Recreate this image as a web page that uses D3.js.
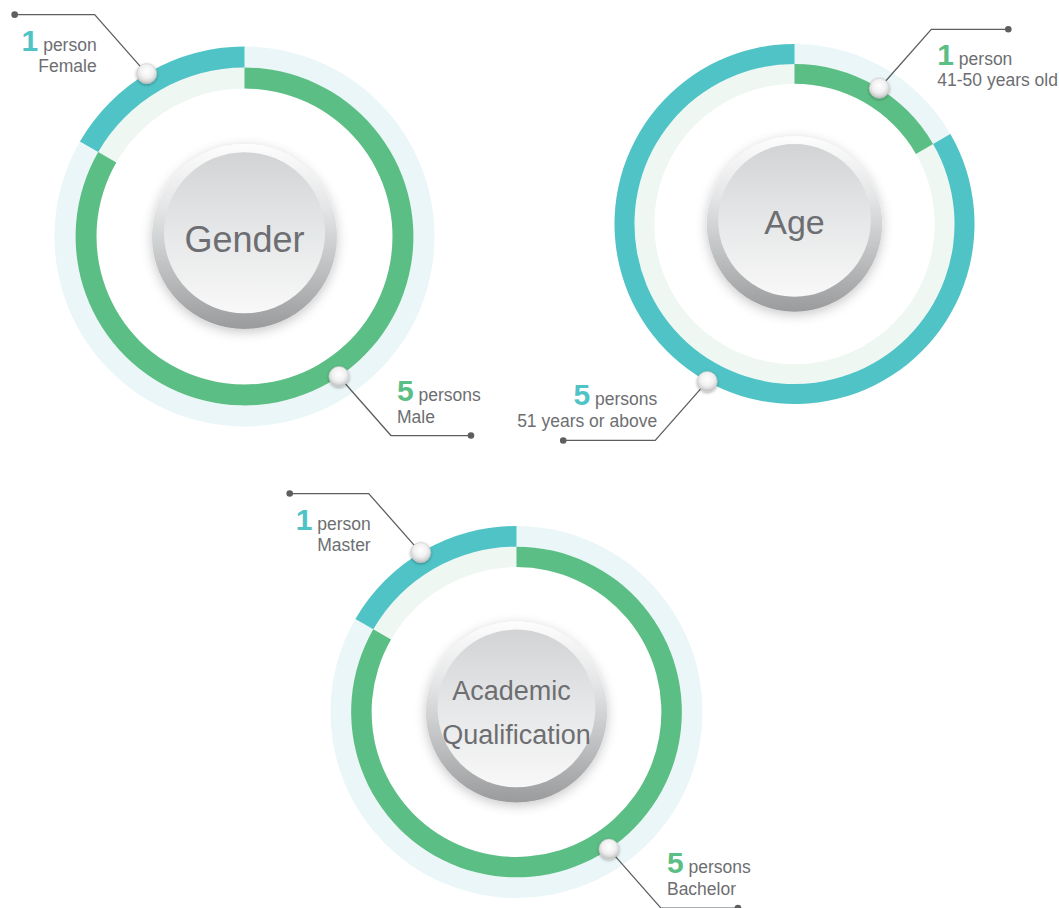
<!DOCTYPE html>
<html><head><meta charset="utf-8">
<script src="https://cdn.jsdelivr.net/npm/d3@7"></script>
<style>html,body{margin:0;padding:0;background:#fff;} svg{display:block;}</style>
</head><body>
<svg id="chart" width="1059" height="908"></svg>
<script>
// ---------- data ----------
const chartTitles = ["Gender", "Age", "Academic Qualification"];
const genderCategories = ["Female", "Male"];
const genderValues = [1, 5];
const ageCategories = ["41-50 years old", "51 years or above"];
const ageValues = [1, 5];
const academicCategories = ["Master", "Bachelor"];
const academicValues = [1, 5];

// ---------- styles / layout ----------
const TEAL = "#4fc3c6", GREEN = "#5bbe84";
const LIGHT_OUTER = "#eaf6f7", LIGHT_INNER = "#eef7f2";
const TEXT = "#6d6e71", LINE = "#5d5e60";
const FONT = "'Liberation Sans', Arial, Helvetica, sans-serif";

const charts = [
  {title: chartTitles[0], cats: genderCategories, vals: genderValues, cx: 244.5, cy: 236.5, R: 190,
   colors: [TEAL, GREEN], start: "endAtTop", lines: 1, titleSize: 36, titleDy: 1,
   leaderLen: [80, 80], knobShift: [-1, -4]},
  {title: chartTitles[1], cats: ageCategories, vals: ageValues, cx: 794.5, cy: 224, R: 180,
   colors: [GREEN, TEAL], start: "startAtTop", lines: 1, titleSize: 34, titleDy: -4.5,
   leaderLen: [77, 92], knobShift: [2, -1]},
  {title: chartTitles[2], cats: academicCategories, vals: academicValues, cx: 516.5, cy: 712, R: 186,
   colors: [TEAL, GREEN], start: "endAtTop", lines: 2, titleSize: 27, titleDy: 0,
   leaderLen: [79, 77], knobShift: [-1, -4]}
];

const svg = d3.select("#chart");
svg.append("rect").attr("width", 1059).attr("height", 908).attr("fill", "#fff");

const defs = svg.append("defs");
const rimGrad = defs.append("linearGradient").attr("id", "rimGrad")
  .attr("x1", 0).attr("y1", 0).attr("x2", 0).attr("y2", 1);
[[0, "#fdfdfd"], [0.35, "#e4e5e6"], [0.7, "#bcbdbf"], [1, "#9a9b9d"]]
  .forEach(([o, c]) => rimGrad.append("stop").attr("offset", o).attr("stop-color", c));
const faceGrad = defs.append("linearGradient").attr("id", "faceGrad")
  .attr("x1", 0).attr("y1", 0).attr("x2", 0).attr("y2", 1);
[[0, "#d2d3d5"], [0.5, "#e6e7e8"], [1, "#f8f8f8"]]
  .forEach(([o, c]) => faceGrad.append("stop").attr("offset", o).attr("stop-color", c));
const knobGrad = defs.append("radialGradient").attr("id", "knobGrad")
  .attr("cx", "50%").attr("cy", "38%").attr("r", "60%");
[[0, "#ffffff"], [0.55, "#f1f1f1"], [0.8, "#dcdcdc"], [1, "#bfbfbf"]]
  .forEach(([o, c]) => knobGrad.append("stop").attr("offset", o).attr("stop-color", c));

function shadow(id, std, dy, op) {
  const f = defs.append("filter").attr("id", id)
    .attr("x", "-40%").attr("y", "-40%").attr("width", "180%").attr("height", "180%");
  f.append("feGaussianBlur").attr("in", "SourceAlpha").attr("stdDeviation", std);
  f.append("feOffset").attr("dy", dy).attr("result", "b");
  f.append("feFlood").attr("flood-color", "#000").attr("flood-opacity", op);
  f.append("feComposite").attr("in2", "b").attr("operator", "in");
  const m = f.append("feMerge");
  m.append("feMergeNode");
  m.append("feMergeNode").attr("in", "SourceGraphic");
}
shadow("btnShadow", 6, 3, 0.22);
shadow("knobShadow", 1.6, 1, 0.35);

charts.forEach(ch => {
  const g = svg.append("g").attr("transform", `translate(${ch.cx},${ch.cy})`);
  const R = ch.R;
  const rings = {
    outer: [R * 0.889, R],
    inner: [R * 0.779, R * 0.889]
  };
  const ringOf = c => (c === TEAL ? "outer" : "inner");

  // background rings
  const full = d3.arc().startAngle(0).endAngle(2 * Math.PI);
  g.append("path").attr("d", full.innerRadius(rings.outer[0]).outerRadius(rings.outer[1])()).attr("fill", LIGHT_OUTER);
  g.append("path").attr("d", full.innerRadius(rings.inner[0]).outerRadius(rings.inner[1])()).attr("fill", LIGHT_INNER);

  // segments
  const total = d3.sum(ch.vals);
  const startDeg = ch.start === "endAtTop" ? -360 * ch.vals[0] / total : 0;
  const toRad = d => d * Math.PI / 180;
  const pie = d3.pie().sort(null).startAngle(toRad(startDeg)).endAngle(toRad(startDeg + 360));
  const arcs = pie(ch.vals);
  const arc = d3.arc();
  arcs.forEach((a, i) => {
    const r = rings[ringOf(ch.colors[i])];
    g.append("path")
      .attr("d", arc({innerRadius: r[0], outerRadius: r[1], startAngle: a.startAngle, endAngle: a.endAngle}))
      .attr("fill", ch.colors[i]);
  });

  // center button
  const btn = g.append("g").attr("filter", "url(#btnShadow)");
  btn.append("circle").attr("r", R * 0.487).attr("fill", "url(#rimGrad)");
  btn.append("circle").attr("cy", -R * 0.02).attr("r", R * 0.424).attr("fill", "url(#faceGrad)");
  const titleLines = ch.lines === 2 ? ch.title.split(" ") : [ch.title];
  const capH = ch.titleSize * 0.716;
  const lineH = ch.titleSize * 1.63;
  titleLines.forEach((t, i) => {
    g.append("text")
      .attr("x", titleLines.length === 2 && i === 0 ? -5 : 0)
      .attr("y", capH / 2 + (i - (titleLines.length - 1) / 2) * lineH + ch.titleDy + (titleLines.length === 1 ? 2 : 0))
      .attr("text-anchor", "middle")
      .attr("font-family", FONT).attr("font-size", ch.titleSize).attr("fill", TEXT)
      .text(t);
  });

  // knobs, leaders, labels
  arcs.forEach((a, i) => {
    const r = rings[ringOf(ch.colors[i])][1];
    const ang = (a.startAngle + a.endAngle) / 2 + toRad(ch.knobShift[i]);
    const kx = r * Math.sin(ang), ky = -r * Math.cos(ang);
    const sx = Math.sin(ang) >= 0 ? 1 : -1;
    const sy = Math.cos(ang) >= 0 ? -1 : 1;
    const cxr = kx + sx * 52, cyr = ky + sy * 59;
    const dx = cxr + sx * ch.leaderLen[i];
    g.append("path")
      .attr("d", `M${kx},${ky}L${cxr},${cyr}L${dx},${cyr}`)
      .attr("fill", "none").attr("stroke", LINE).attr("stroke-width", 1.3);
    g.append("circle").attr("cx", dx).attr("cy", cyr).attr("r", 3.3).attr("fill", LINE);
    g.append("circle").attr("cx", kx).attr("cy", ky).attr("r", 10)
      .attr("fill", "url(#knobGrad)").attr("stroke", "#cfcfcf").attr("stroke-width", 0.6)
      .attr("filter", "url(#knobShadow)");

    const tx = sx > 0 ? cxr + 6 : cxr + 2;
    const anchor = sx > 0 ? "start" : "end";
    const numY = sy < 0 ? cyr + 36 : cyr - 35;
    const subY = sy < 0 ? cyr + 57 : cyr - 13;
    const v = ch.vals[i];
    const t1 = g.append("text").attr("x", tx).attr("y", numY).attr("text-anchor", anchor)
      .attr("font-family", FONT).attr("fill", TEXT);
    t1.append("tspan").attr("font-size", 30).attr("font-weight", "bold").attr("fill", ch.colors[i]).text(v);
    t1.append("tspan").attr("font-size", 17.5).text(v === 1 ? " person" : " persons");
    g.append("text").attr("x", tx).attr("y", subY).attr("text-anchor", anchor)
      .attr("font-family", FONT).attr("font-size", 17.5).attr("fill", TEXT)
      .text(ch.cats[i]);
  });
});
</script>
</body></html>
